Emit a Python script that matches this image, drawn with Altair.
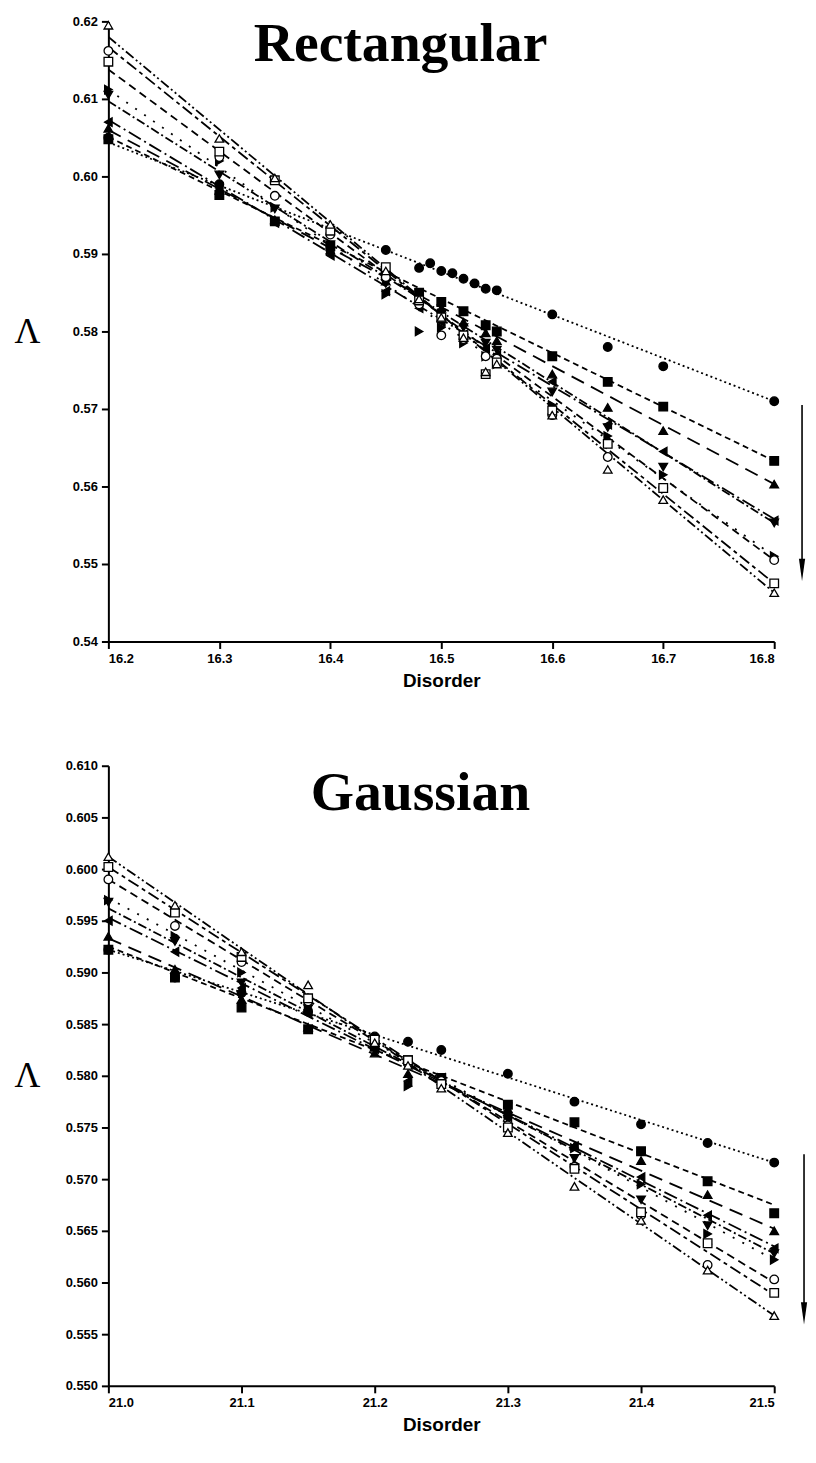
import altair as alt
import pandas as pd

# ---------------- series definitions ----------------
SERIES = ["f_circle", "f_square", "f_tri_up", "f_tri_left", "f_tri_down",
          "f_tri_right", "o_circle", "o_square", "o_tri_up"]
SHAPES = ["circle", "square", "triangle-up", "triangle-left", "triangle-down",
          "triangle-right", "circle", "square", "triangle-up"]
FILLS = ["black", "black", "black", "black", "black", "black", "white", "white", "white"]
DASHES = [[2, 3], [6, 4], [14, 8], [14, 4, 2, 4], [9, 3, 2, 3], [2, 9],
          [8, 5], [12, 4, 4, 4], [10, 3, 2, 3, 2, 3]]

# ---------------- Rectangular panel ----------------
RECT_X_CIRCLE = [16.2, 16.3, 16.45, 16.48, 16.49, 16.5, 16.51, 16.52, 16.53,
                 16.54, 16.55, 16.6, 16.65, 16.7, 16.8]
RECT_X = [16.2, 16.3, 16.35, 16.4, 16.45, 16.48, 16.5, 16.52, 16.54, 16.55,
          16.6, 16.65, 16.7, 16.8]
RECT_F_CIRCLE = [0.6050, 0.5990, 0.5905, 0.5882, 0.5888, 0.5878, 0.5875, 0.5868,
                 0.5862, 0.5855, 0.5853, 0.5822, 0.5780, 0.5755, 0.5710]
RECT_F_SQUARE = [0.6048, 0.5976, 0.5942, 0.5910, 0.5872, 0.5850, 0.5838, 0.5826,
                 0.5808, 0.5800, 0.5768, 0.5735, 0.5703, 0.5633]
RECT_F_TRI_UP = [0.6062, 0.5982, 0.5944, 0.5905, 0.5865, 0.5842, 0.5830, 0.5812,
                 0.5798, 0.5788, 0.5745, 0.5702, 0.5672, 0.5603]
RECT_F_TRI_LEFT = [0.6070, 0.5985, 0.5940, 0.5898, 0.5852, 0.5830, 0.5812, 0.5796,
                   0.5778, 0.5770, 0.5735, 0.5680, 0.5645, 0.5556]
RECT_F_TRI_DOWN = [0.6105, 0.6002, 0.5958, 0.5912, 0.5862, 0.5832, 0.5822, 0.5805,
                   0.5785, 0.5776, 0.5722, 0.5676, 0.5625, 0.5553]
RECT_F_TRI_RIGHT = [0.6112, 0.6020, 0.5960, 0.5905, 0.5848, 0.5800, 0.5805, 0.5785,
                    0.5768, 0.5758, 0.5705, 0.5665, 0.5615, 0.5510]
RECT_O_CIRCLE = [0.6162, 0.6025, 0.5975, 0.5925, 0.5870, 0.5835, 0.5795, 0.5790,
                 0.5768, 0.5765, 0.5692, 0.5638, 0.5598, 0.5505]
RECT_O_SQUARE = [0.6148, 0.6032, 0.5995, 0.5930, 0.5883, 0.5840, 0.5818, 0.5795,
                 0.5745, 0.5760, 0.5698, 0.5655, 0.5598, 0.5475]
RECT_O_TRI_UP = [0.6195, 0.6049, 0.5998, 0.5938, 0.5878, 0.5842, 0.5818, 0.5792,
                 0.5748, 0.5758, 0.5692, 0.5622, 0.5583, 0.5463]
RECT_FIT_X = [16.2, 16.8]
RECT_FIT_START = [0.6044, 0.6051, 0.6060, 0.6073, 0.6097, 0.6112, 0.6138, 0.6167, 0.6180]
RECT_FIT_END = [0.5710, 0.5633, 0.5603, 0.5558, 0.5553, 0.5510, 0.5505, 0.5475, 0.5463]
RECT_XTICKS = [16.2, 16.3, 16.4, 16.5, 16.6, 16.7, 16.8]
RECT_YTICKS = [0.54, 0.55, 0.56, 0.57, 0.58, 0.59, 0.60, 0.61, 0.62]

# ---------------- Gaussian panel ----------------
GAUSS_X = [21.0, 21.05, 21.1, 21.15, 21.2, 21.225, 21.25, 21.3, 21.35, 21.4, 21.45, 21.5]
GAUSS_F_CIRCLE = [0.5922, 0.5895, 0.5880, 0.5862, 0.5838, 0.5833, 0.5825, 0.5802,
                  0.5775, 0.5753, 0.5735, 0.5716]
GAUSS_F_SQUARE = [0.5922, 0.5895, 0.5866, 0.5845, 0.5828, 0.5815, 0.5798, 0.5772,
                  0.5755, 0.5727, 0.5698, 0.5667]
GAUSS_F_TRI_UP = [0.5935, 0.5903, 0.5874, 0.5847, 0.5822, 0.5802, 0.5795, 0.5768,
                  0.5732, 0.5718, 0.5685, 0.5650]
GAUSS_F_TRI_LEFT = [0.5950, 0.5920, 0.5885, 0.5860, 0.5826, 0.5795, 0.5798, 0.5760,
                    0.5732, 0.5702, 0.5665, 0.5633]
GAUSS_F_TRI_DOWN = [0.5968, 0.5930, 0.5890, 0.5865, 0.5830, 0.5810, 0.5792, 0.5758,
                    0.5720, 0.5680, 0.5655, 0.5628]
GAUSS_F_TRI_RIGHT = [0.5970, 0.5935, 0.5900, 0.5868, 0.5830, 0.5790, 0.5798, 0.5762,
                     0.5730, 0.5695, 0.5647, 0.5622]
GAUSS_O_CIRCLE = [0.5990, 0.5945, 0.5910, 0.5872, 0.5832, 0.5812, 0.5795, 0.5752,
                  0.5712, 0.5665, 0.5617, 0.5603]
GAUSS_O_SQUARE = [0.6002, 0.5958, 0.5915, 0.5875, 0.5835, 0.5815, 0.5792, 0.5750,
                  0.5710, 0.5668, 0.5638, 0.5590]
GAUSS_O_TRI_UP = [0.6012, 0.5965, 0.5920, 0.5888, 0.5832, 0.5810, 0.5788, 0.5745,
                  0.5693, 0.5660, 0.5612, 0.5568]
GAUSS_FIT_X = [21.0, 21.5]
GAUSS_FIT_START = [0.5922, 0.5925, 0.5933, 0.5953, 0.5962, 0.5972, 0.5990, 0.6002, 0.6012]
GAUSS_FIT_END = [0.5716, 0.5675, 0.5652, 0.5635, 0.5628, 0.5622, 0.5600, 0.5588, 0.5568]
GAUSS_XTICKS = [21.0, 21.1, 21.2, 21.3, 21.4, 21.5]
GAUSS_YTICKS = [0.550, 0.555, 0.560, 0.565, 0.570, 0.575, 0.580, 0.585, 0.590,
                0.595, 0.600, 0.605, 0.610]


def build_points(xs_list, ys_list):
    rows = []
    for name, xs, ys in zip(SERIES, xs_list, ys_list):
        for xv, yv in zip(xs, ys):
            rows.append({"series": name, "x": xv, "y": yv})
    return pd.DataFrame(rows)


def build_fits(fit_x, starts, ends):
    rows = []
    for name, a, b in zip(SERIES, starts, ends):
        rows.append({"series": name, "x": fit_x[0], "y": a})
        rows.append({"series": name, "x": fit_x[1], "y": b})
    return pd.DataFrame(rows)


rect_pts = build_points(
    [RECT_X_CIRCLE] + [RECT_X] * 8,
    [RECT_F_CIRCLE, RECT_F_SQUARE, RECT_F_TRI_UP, RECT_F_TRI_LEFT, RECT_F_TRI_DOWN,
     RECT_F_TRI_RIGHT, RECT_O_CIRCLE, RECT_O_SQUARE, RECT_O_TRI_UP])
rect_fit = build_fits(RECT_FIT_X, RECT_FIT_START, RECT_FIT_END)

gauss_pts = build_points(
    [GAUSS_X] * 9,
    [GAUSS_F_CIRCLE, GAUSS_F_SQUARE, GAUSS_F_TRI_UP, GAUSS_F_TRI_LEFT, GAUSS_F_TRI_DOWN,
     GAUSS_F_TRI_RIGHT, GAUSS_O_CIRCLE, GAUSS_O_SQUARE, GAUSS_O_TRI_UP])
gauss_fit = build_fits(GAUSS_FIT_X, GAUSS_FIT_START, GAUSS_FIT_END)

W, H = 670, 624


def panel(pts, fits, xdom, ydom, xticks, yticks, yfmt, title, tx, ty, ax, ay1, ay2):
    xenc = alt.X("x:Q",
                 scale=alt.Scale(domain=xdom, nice=False, zero=False),
                 axis=alt.Axis(values=xticks, format=".1f", title="Disorder",
                               titleFont="Liberation Sans", titleFontSize=19,
                               titleFontWeight="bold", titlePadding=6,
                               labelFont="Liberation Sans", labelFontSize=13,
                               labelFontWeight="bold", labelPadding=4))
    yenc = alt.Y("y:Q",
                 scale=alt.Scale(domain=ydom, nice=False, zero=False),
                 axis=alt.Axis(values=yticks, format=yfmt, title="Λ",
                               titleAngle=0, titleFont="Liberation Serif",
                               titleFontSize=36, titleFontWeight="normal",
                               titleAlign="center", titleBaseline="middle",
                               titleX=-82, titleY=H / 2,
                               labelFont="Liberation Sans", labelFontSize=13,
                               labelFontWeight="bold", labelPadding=4))
    lines = alt.Chart(fits).mark_line(color="black", strokeWidth=1.8).encode(
        x=xenc, y=yenc,
        detail="series:N",
        strokeDash=alt.StrokeDash("series:N",
                                  scale=alt.Scale(domain=SERIES, range=DASHES),
                                  legend=None))
    points = alt.Chart(pts).mark_point(filled=True, size=75, stroke="black",
                                       strokeWidth=1.3, opacity=1, clip=False).encode(
        x=xenc, y=yenc,
        shape=alt.Shape("series:N", scale=alt.Scale(domain=SERIES, range=SHAPES),
                        legend=None),
        fill=alt.Fill("series:N", scale=alt.Scale(domain=SERIES, range=FILLS),
                      legend=None))
    ttl = alt.Chart(pd.DataFrame({"t": [title]})).mark_text(
        font="Liberation Serif", fontWeight="bold", fontSize=56,
        color="black", baseline="alphabetic", align="center").encode(
        text="t:N", x=alt.value(tx), y=alt.value(ty))
    arrow = alt.Chart(pd.DataFrame({"a": [0]})).mark_rule(
        color="black", strokeWidth=1.6).encode(
        x=alt.value(ax), y=alt.value(ay1), y2=alt.value(ay2 - 10))
    head = alt.Chart(pd.DataFrame({"a": [0]})).mark_point(
        shape="M-0.28,-1L0.28,-1L0,1Z", filled=True, color="black",
        size=500, opacity=1).encode(x=alt.value(ax), y=alt.value(ay2 - 11))
    return alt.layer(lines, points, ttl, arrow, head).properties(width=W, height=H)


top = panel(rect_pts, rect_fit, [16.2, 16.8], [0.54, 0.62], RECT_XTICKS, RECT_YTICKS,
            ".2f", "Rectangular", 294, 40, 698, 386, 563)
bottom = panel(gauss_pts, gauss_fit, [21.0, 21.5], [0.550, 0.610], GAUSS_XTICKS,
               GAUSS_YTICKS, ".3f", "Gaussian", 314, 45, 700, 391, 562)

chart = alt.vconcat(top, bottom, spacing=70).properties(
    padding={"left": 5, "top": 3, "right": 0, "bottom": 0}
).configure_view(stroke=None).configure_axis(
    grid=False, domainColor="black", domainWidth=2, tickColor="black",
    tickWidth=2, tickSize=7, labelColor="black", titleColor="black"
)

chart.save("out.html", embed_options={"renderer": "svg", "actions": False})
